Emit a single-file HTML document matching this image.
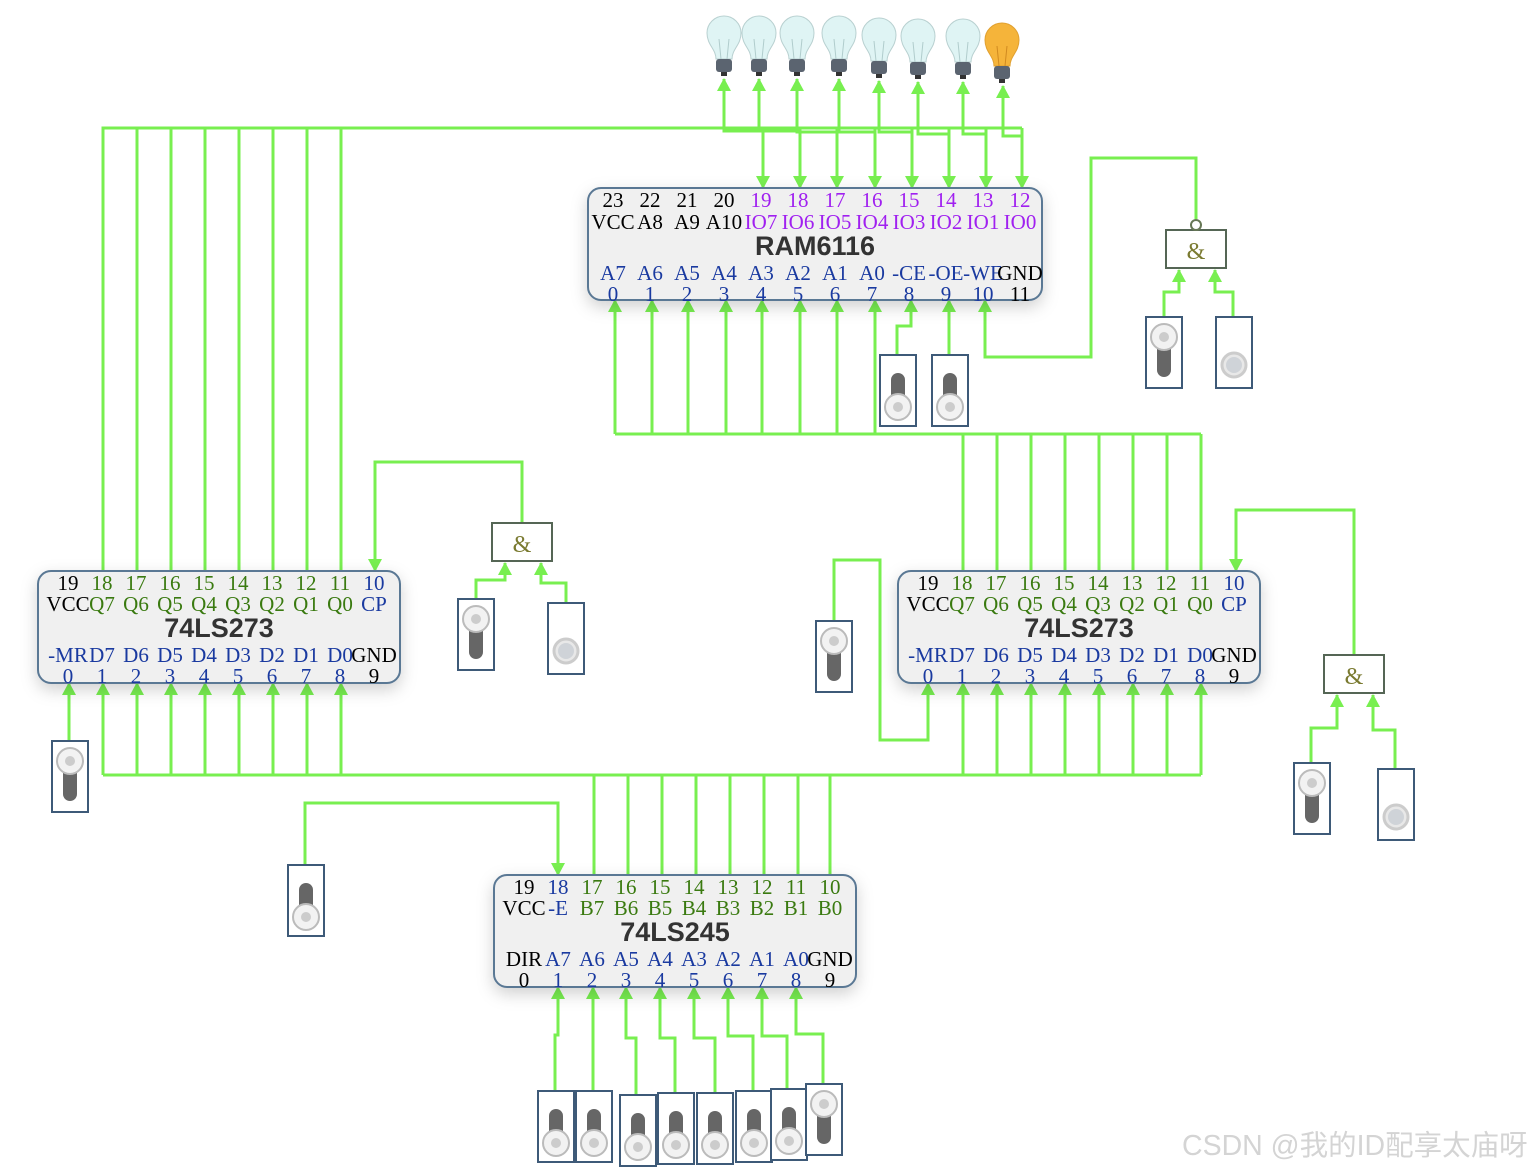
<!DOCTYPE html>
<html><head><meta charset="utf-8"><style>
html,body{margin:0;padding:0;background:#fff;}
svg{display:block;}
.w{fill:none;stroke:#78ef50;stroke-width:3;}
.n{font-family:"Liberation Serif",serif;font-size:21px;text-anchor:middle;}
.t{font-family:"Liberation Sans",sans-serif;font-size:27px;font-weight:bold;fill:#333;text-anchor:middle;}
.k{fill:#000}.p{fill:#a020f0}.b{fill:#1a3aa0}.g{fill:#3a7a10}
.chip{fill:#f0f0f0;stroke:#5a7894;stroke-width:2;}
.amp{font-family:"Liberation Serif",serif;font-size:24px;fill:#7a7a30;text-anchor:middle;}
</style></head><body>
<svg width="1533" height="1172" viewBox="0 0 1533 1172" xmlns="http://www.w3.org/2000/svg">
<defs>
<marker id="a" markerUnits="userSpaceOnUse" markerWidth="14" markerHeight="14" refX="12" refY="7" orient="auto" viewBox="0 0 14 14"><path d="M0,0 L13,7 L0,14 z" fill="#78ef50"/></marker>
<filter id="sh" x="-10%" y="-20%" width="120%" height="150%"><feDropShadow dx="0" dy="6" stdDeviation="8" flood-color="#000" flood-opacity="0.18"/></filter>
<g id="off"><rect x="0" y="0" width="36" height="71" fill="#fff" stroke="#3e5a78" stroke-width="2"/><rect x="11" y="18" width="14" height="32" rx="7" fill="#666"/><circle cx="18" cy="52" r="13" fill="#f2f2f2" stroke="#bbb" stroke-width="2"/><circle cx="18" cy="52" r="5" fill="#ccc"/></g>
<g id="on"><rect x="0" y="0" width="36" height="71" fill="#fff" stroke="#3e5a78" stroke-width="2"/><rect x="11" y="24" width="14" height="36" rx="7" fill="#666"/><circle cx="18" cy="20" r="13" fill="#f2f2f2" stroke="#bbb" stroke-width="2"/><circle cx="18" cy="20" r="5" fill="#ccc"/></g>
<g id="btn"><rect x="0" y="0" width="36" height="71" fill="#fff" stroke="#3e5a78" stroke-width="2"/><circle cx="18" cy="48" r="12" fill="#e8e8e8" stroke="#ccc" stroke-width="3"/><circle cx="18" cy="48" r="8" fill="#cfd3d8"/></g>
<g id="bulb"><path d="M-8,0 C-8,-10 -17,-14 -17,-26 A17,17 0 0 1 17,-26 C17,-14 8,-10 8,0 Z" fill="#dff4f4" stroke="#b8d0d0"/><path d="M-3,0 L-5,-20 M3,0 L5,-20" stroke="#b0cccc" fill="none"/><rect x="-8" y="0" width="16" height="13" rx="3" fill="#5b6470"/><rect x="-3" y="13" width="6" height="4" fill="#333"/></g>
<g id="bulbon"><path d="M-8,0 C-8,-10 -17,-14 -17,-26 A17,17 0 0 1 17,-26 C17,-14 8,-10 8,0 Z" fill="#f5b43a" stroke="#e0a030"/><path d="M-3,0 L-5,-20 M3,0 L5,-20" stroke="#d08a20" fill="none"/><rect x="-8" y="0" width="16" height="13" rx="3" fill="#5b6470"/><rect x="-3" y="13" width="6" height="4" fill="#333"/></g>
</defs>

<!-- bulbs -->
<use href="#bulb" x="724" y="59"/><use href="#bulb" x="759" y="59"/><use href="#bulb" x="797" y="59"/><use href="#bulb" x="839" y="59"/><use href="#bulb" x="879" y="61"/><use href="#bulb" x="918" y="62"/><use href="#bulb" x="963" y="62"/><use href="#bulbon" x="1002" y="66"/>

<!-- wires -->
<g class="w">
<path d="M103,571V128H1022"/>
<path d="M137,571V128M171,571V128M205,571V128M239,571V128M273,571V128M307,571V128M341,571V128"/>
<path d="M763,128V188" marker-end="url(#a)"/><path d="M800,128V188" marker-end="url(#a)"/><path d="M837,128V188" marker-end="url(#a)"/><path d="M875,128V188" marker-end="url(#a)"/><path d="M912,128V188" marker-end="url(#a)"/><path d="M949,128V188" marker-end="url(#a)"/><path d="M986,128V188" marker-end="url(#a)"/><path d="M1022,128V188" marker-end="url(#a)"/>
<path d="M763,131H724V79" marker-end="url(#a)"/><path d="M800,131H759V79" marker-end="url(#a)"/><path d="M837,132H797V79" marker-end="url(#a)"/><path d="M875,132H839V79" marker-end="url(#a)"/><path d="M912,132H879V81" marker-end="url(#a)"/><path d="M949,134H918V82" marker-end="url(#a)"/><path d="M986,134H963V82" marker-end="url(#a)"/><path d="M1022,136H1003V86" marker-end="url(#a)"/>
<path d="M615,434H1201"/>
<path d="M615,434V300" marker-end="url(#a)"/><path d="M652,434V300" marker-end="url(#a)"/><path d="M688,434V300" marker-end="url(#a)"/><path d="M726,434V300" marker-end="url(#a)"/><path d="M762,434V300" marker-end="url(#a)"/><path d="M800,434V300" marker-end="url(#a)"/><path d="M837,434V300" marker-end="url(#a)"/><path d="M875,434V300" marker-end="url(#a)"/>
<path d="M963,434V571M997,434V571M1031,434V571M1065,434V571M1099,434V571M1133,434V571M1167,434V571M1201,434V571"/>
<path d="M897,355V326H911V300" marker-end="url(#a)"/><path d="M949,355V300" marker-end="url(#a)"/>
<path d="M1196,219V158H1091V357H985V300" marker-end="url(#a)"/>
<path d="M1164,317V292H1179V270" marker-end="url(#a)"/><path d="M1233,317V292H1215V270" marker-end="url(#a)"/>
<path d="M522,522V462H375V571" marker-end="url(#a)"/>
<path d="M476,599V580H505V563" marker-end="url(#a)"/><path d="M566,603V583H541V563" marker-end="url(#a)"/>
<path d="M69,741V683" marker-end="url(#a)"/>
<path d="M103,775H1201"/>
<path d="M103,775V683" marker-end="url(#a)"/><path d="M137,775V683" marker-end="url(#a)"/><path d="M171,775V683" marker-end="url(#a)"/><path d="M205,775V683" marker-end="url(#a)"/><path d="M239,775V683" marker-end="url(#a)"/><path d="M273,775V683" marker-end="url(#a)"/><path d="M307,775V683" marker-end="url(#a)"/><path d="M341,775V683" marker-end="url(#a)"/>
<path d="M963,775V683" marker-end="url(#a)"/><path d="M997,775V683" marker-end="url(#a)"/><path d="M1031,775V683" marker-end="url(#a)"/><path d="M1065,775V683" marker-end="url(#a)"/><path d="M1099,775V683" marker-end="url(#a)"/><path d="M1133,775V683" marker-end="url(#a)"/><path d="M1167,775V683" marker-end="url(#a)"/><path d="M1201,775V683" marker-end="url(#a)"/>
<path d="M594,775V875M628,775V875M662,775V875M696,775V875M730,775V875M764,775V875M798,775V875M830,775V875"/>
<path d="M305,865V803H558V875" marker-end="url(#a)"/>
<path d="M834,621V560H880V740H928V683" marker-end="url(#a)"/>
<path d="M1354,655V510H1236V571" marker-end="url(#a)"/>
<path d="M1311,763V728H1337V695" marker-end="url(#a)"/><path d="M1395,769V730H1373V695" marker-end="url(#a)"/>
<path d="M555,1091V1035H558V987" marker-end="url(#a)"/>
<path d="M593,1091V987" marker-end="url(#a)"/>
<path d="M636,1095V1038H626V987" marker-end="url(#a)"/>
<path d="M675,1093V1038H660V987" marker-end="url(#a)"/>
<path d="M715,1093V1038H694V987" marker-end="url(#a)"/>
<path d="M753,1091V1036H728V987" marker-end="url(#a)"/>
<path d="M787,1089V1036H762V987" marker-end="url(#a)"/>
<path d="M823,1084V1034H796V987" marker-end="url(#a)"/>
</g>

<!-- switches -->
<use href="#off" x="880" y="355"/><use href="#off" x="932" y="355"/>
<use href="#on" x="1146" y="317"/><use href="#btn" x="1216" y="317"/>
<use href="#on" x="458" y="599"/><use href="#btn" x="548" y="603"/>
<use href="#on" x="52" y="741"/>
<use href="#on" x="816" y="621"/>
<use href="#on" x="1294" y="763"/><use href="#btn" x="1378" y="769"/>
<use href="#off" x="288" y="865"/>
<use href="#off" x="538" y="1091"/><use href="#off" x="576" y="1091"/><use href="#off" x="620" y="1095"/><use href="#off" x="658" y="1093"/><use href="#off" x="697" y="1093"/><use href="#off" x="736" y="1091"/><use href="#off" x="771" y="1089"/><use href="#on" x="806" y="1084"/>

<!-- gates -->
<rect x="1166" y="230" width="60" height="38" fill="#fff" stroke="#556655" stroke-width="2"/><circle cx="1196" cy="225" r="5" fill="#fff" stroke="#667755" stroke-width="2"/><text class="amp" x="1196" y="259">&amp;</text>
<rect x="492" y="523" width="60" height="38" fill="#fff" stroke="#556655" stroke-width="2"/><text class="amp" x="522" y="552">&amp;</text>
<rect x="1324" y="655" width="60" height="38" fill="#fff" stroke="#556655" stroke-width="2"/><text class="amp" x="1354" y="684">&amp;</text>

<!-- RAM6116 -->
<rect class="chip" x="588" y="188" width="454" height="112" rx="13" filter="url(#sh)"/>
<g class="n">
<text class="k" x="613" y="207">23</text><text class="k" x="650" y="207">22</text><text class="k" x="687" y="207">21</text><text class="k" x="724" y="207">20</text>
<text class="p" x="761" y="207">19</text><text class="p" x="798" y="207">18</text><text class="p" x="835" y="207">17</text><text class="p" x="872" y="207">16</text><text class="p" x="909" y="207">15</text><text class="p" x="946" y="207">14</text><text class="p" x="983" y="207">13</text><text class="p" x="1020" y="207">12</text>
<text class="k" x="613" y="229">VCC</text><text class="k" x="650" y="229">A8</text><text class="k" x="687" y="229">A9</text><text class="k" x="724" y="229">A10</text>
<text class="p" x="761" y="229">IO7</text><text class="p" x="798" y="229">IO6</text><text class="p" x="835" y="229">IO5</text><text class="p" x="872" y="229">IO4</text><text class="p" x="909" y="229">IO3</text><text class="p" x="946" y="229">IO2</text><text class="p" x="983" y="229">IO1</text><text class="p" x="1020" y="229">IO0</text>
<text class="b" x="613" y="280">A7</text><text class="b" x="650" y="280">A6</text><text class="b" x="687" y="280">A5</text><text class="b" x="724" y="280">A4</text><text class="b" x="761" y="280">A3</text><text class="b" x="798" y="280">A2</text><text class="b" x="835" y="280">A1</text><text class="b" x="872" y="280">A0</text><text class="b" x="909" y="280">-CE</text><text class="b" x="946" y="280">-OE</text><text class="b" x="983" y="280">-WE</text><text class="k" x="1020" y="280">GND</text>
<text class="b" x="613" y="301">0</text><text class="b" x="650" y="301">1</text><text class="b" x="687" y="301">2</text><text class="b" x="724" y="301">3</text><text class="b" x="761" y="301">4</text><text class="b" x="798" y="301">5</text><text class="b" x="835" y="301">6</text><text class="b" x="872" y="301">7</text><text class="b" x="909" y="301">8</text><text class="b" x="946" y="301">9</text><text class="b" x="983" y="301">10</text><text class="k" x="1020" y="301">11</text>
</g>
<text class="t" x="815" y="255">RAM6116</text>

<!-- left 74LS273 -->
<rect class="chip" x="38" y="571" width="362" height="112" rx="13" filter="url(#sh)"/>
<g class="n">
<text class="k" x="68" y="590">19</text><text class="g" x="102" y="590">18</text><text class="g" x="136" y="590">17</text><text class="g" x="170" y="590">16</text><text class="g" x="204" y="590">15</text><text class="g" x="238" y="590">14</text><text class="g" x="272" y="590">13</text><text class="g" x="306" y="590">12</text><text class="g" x="340" y="590">11</text><text class="b" x="374" y="590">10</text>
<text class="k" x="68" y="611">VCC</text><text class="g" x="102" y="611">Q7</text><text class="g" x="136" y="611">Q6</text><text class="g" x="170" y="611">Q5</text><text class="g" x="204" y="611">Q4</text><text class="g" x="238" y="611">Q3</text><text class="g" x="272" y="611">Q2</text><text class="g" x="306" y="611">Q1</text><text class="g" x="340" y="611">Q0</text><text class="b" x="374" y="611">CP</text>
<text class="b" x="68" y="662">-MR</text><text class="b" x="102" y="662">D7</text><text class="b" x="136" y="662">D6</text><text class="b" x="170" y="662">D5</text><text class="b" x="204" y="662">D4</text><text class="b" x="238" y="662">D3</text><text class="b" x="272" y="662">D2</text><text class="b" x="306" y="662">D1</text><text class="b" x="340" y="662">D0</text><text class="k" x="374" y="662">GND</text>
<text class="b" x="68" y="683">0</text><text class="b" x="102" y="683">1</text><text class="b" x="136" y="683">2</text><text class="b" x="170" y="683">3</text><text class="b" x="204" y="683">4</text><text class="b" x="238" y="683">5</text><text class="b" x="272" y="683">6</text><text class="b" x="306" y="683">7</text><text class="b" x="340" y="683">8</text><text class="k" x="374" y="683">9</text>
</g>
<text class="t" x="219" y="637">74LS273</text>

<!-- right 74LS273 -->
<rect class="chip" x="898" y="571" width="362" height="112" rx="13" filter="url(#sh)"/>
<g class="n">
<text class="k" x="928" y="590">19</text><text class="g" x="962" y="590">18</text><text class="g" x="996" y="590">17</text><text class="g" x="1030" y="590">16</text><text class="g" x="1064" y="590">15</text><text class="g" x="1098" y="590">14</text><text class="g" x="1132" y="590">13</text><text class="g" x="1166" y="590">12</text><text class="g" x="1200" y="590">11</text><text class="b" x="1234" y="590">10</text>
<text class="k" x="928" y="611">VCC</text><text class="g" x="962" y="611">Q7</text><text class="g" x="996" y="611">Q6</text><text class="g" x="1030" y="611">Q5</text><text class="g" x="1064" y="611">Q4</text><text class="g" x="1098" y="611">Q3</text><text class="g" x="1132" y="611">Q2</text><text class="g" x="1166" y="611">Q1</text><text class="g" x="1200" y="611">Q0</text><text class="b" x="1234" y="611">CP</text>
<text class="b" x="928" y="662">-MR</text><text class="b" x="962" y="662">D7</text><text class="b" x="996" y="662">D6</text><text class="b" x="1030" y="662">D5</text><text class="b" x="1064" y="662">D4</text><text class="b" x="1098" y="662">D3</text><text class="b" x="1132" y="662">D2</text><text class="b" x="1166" y="662">D1</text><text class="b" x="1200" y="662">D0</text><text class="k" x="1234" y="662">GND</text>
<text class="b" x="928" y="683">0</text><text class="b" x="962" y="683">1</text><text class="b" x="996" y="683">2</text><text class="b" x="1030" y="683">3</text><text class="b" x="1064" y="683">4</text><text class="b" x="1098" y="683">5</text><text class="b" x="1132" y="683">6</text><text class="b" x="1166" y="683">7</text><text class="b" x="1200" y="683">8</text><text class="k" x="1234" y="683">9</text>
</g>
<text class="t" x="1079" y="637">74LS273</text>

<!-- 74LS245 -->
<rect class="chip" x="494" y="875" width="362" height="112" rx="13" filter="url(#sh)"/>
<g class="n">
<text class="k" x="524" y="894">19</text><text class="b" x="558" y="894">18</text><text class="g" x="592" y="894">17</text><text class="g" x="626" y="894">16</text><text class="g" x="660" y="894">15</text><text class="g" x="694" y="894">14</text><text class="g" x="728" y="894">13</text><text class="g" x="762" y="894">12</text><text class="g" x="796" y="894">11</text><text class="g" x="830" y="894">10</text>
<text class="k" x="524" y="915">VCC</text><text class="b" x="558" y="915">-E</text><text class="g" x="592" y="915">B7</text><text class="g" x="626" y="915">B6</text><text class="g" x="660" y="915">B5</text><text class="g" x="694" y="915">B4</text><text class="g" x="728" y="915">B3</text><text class="g" x="762" y="915">B2</text><text class="g" x="796" y="915">B1</text><text class="g" x="830" y="915">B0</text>
<text class="k" x="524" y="966">DIR</text><text class="b" x="558" y="966">A7</text><text class="b" x="592" y="966">A6</text><text class="b" x="626" y="966">A5</text><text class="b" x="660" y="966">A4</text><text class="b" x="694" y="966">A3</text><text class="b" x="728" y="966">A2</text><text class="b" x="762" y="966">A1</text><text class="b" x="796" y="966">A0</text><text class="k" x="830" y="966">GND</text>
<text class="k" x="524" y="987">0</text><text class="b" x="558" y="987">1</text><text class="b" x="592" y="987">2</text><text class="b" x="626" y="987">3</text><text class="b" x="660" y="987">4</text><text class="b" x="694" y="987">5</text><text class="b" x="728" y="987">6</text><text class="b" x="762" y="987">7</text><text class="b" x="796" y="987">8</text><text class="k" x="830" y="987">9</text>
</g>
<text class="t" x="675" y="941">74LS245</text>

<text x="1182" y="1155" font-family="'Liberation Sans','Noto Sans CJK SC',sans-serif" font-size="28.5" fill="#d4d4d4">CSDN @我的ID配享太庙呀</text>
</svg>
</body></html>
